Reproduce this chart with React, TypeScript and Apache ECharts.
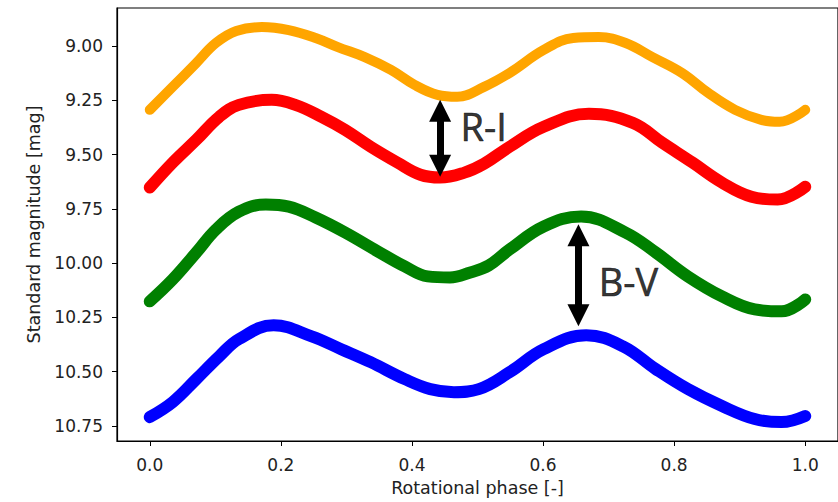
import React, { useEffect, useRef } from "react";
import * as echarts from "echarts";

// I band (orange)
const phaseI = [0.0, 0.035, 0.071, 0.101, 0.132, 0.171, 0.212, 0.253, 0.287, 0.328, 0.368, 0.404, 0.439, 0.469, 0.51, 0.549, 0.601, 0.646, 0.685, 0.726, 0.767, 0.812, 0.852, 0.893, 0.933, 0.961, 1.0];
const magI = [9.294, 9.188, 9.078, 8.986, 8.931, 8.913, 8.927, 8.963, 9.005, 9.051, 9.11, 9.179, 9.225, 9.234, 9.188, 9.124, 9.018, 8.963, 8.959, 8.986, 9.051, 9.124, 9.216, 9.294, 9.34, 9.349, 9.294];
// R band (red)
const phaseR = [0.0, 0.035, 0.071, 0.106, 0.136, 0.186, 0.222, 0.262, 0.298, 0.337, 0.378, 0.413, 0.443, 0.48, 0.51, 0.549, 0.601, 0.67, 0.737, 0.782, 0.828, 0.873, 0.918, 0.958, 1.0];
const magR = [9.652, 9.537, 9.432, 9.326, 9.271, 9.248, 9.271, 9.326, 9.386, 9.464, 9.537, 9.593, 9.606, 9.583, 9.542, 9.464, 9.372, 9.312, 9.354, 9.446, 9.537, 9.629, 9.694, 9.707, 9.648];
// V band (green)
const phaseV = [0.0, 0.035, 0.071, 0.101, 0.136, 0.177, 0.212, 0.253, 0.298, 0.348, 0.389, 0.424, 0.458, 0.489, 0.517, 0.549, 0.601, 0.658, 0.726, 0.772, 0.821, 0.873, 0.923, 0.964, 1.0];
const magV = [10.176, 10.075, 9.951, 9.845, 9.763, 9.73, 9.74, 9.79, 9.859, 9.946, 10.015, 10.061, 10.066, 10.043, 10.011, 9.937, 9.831, 9.785, 9.859, 9.951, 10.061, 10.153, 10.213, 10.222, 10.167];
// B band (blue)
const phaseB = [0.0, 0.035, 0.071, 0.106, 0.136, 0.189, 0.247, 0.292, 0.337, 0.389, 0.428, 0.464, 0.502, 0.549, 0.601, 0.666, 0.722, 0.772, 0.821, 0.873, 0.923, 0.964, 1.0];
const magB = [10.709, 10.64, 10.534, 10.429, 10.35, 10.286, 10.337, 10.396, 10.456, 10.534, 10.58, 10.594, 10.58, 10.502, 10.396, 10.332, 10.383, 10.488, 10.58, 10.658, 10.718, 10.732, 10.704];

const xTicks = [0.0, 0.2, 0.4, 0.6, 0.8, 1.0];
const yTicks = [9.0, 9.25, 9.5, 9.75, 10.0, 10.25, 10.5, 10.75];

// colour-index arrows: [phase, from magnitude, to magnitude]
const arrowRI = [0.443, 9.298, 9.551];
const arrowBV = [0.654, 9.872, 10.24];
// annotation labels: [phase, magnitude, text]
const annotations: [number, number, string][] = [
  [0.474, 9.37, "R-I"],
  [0.685, 10.08, "B-V"],
];

const tickFont = { fontFamily: "DejaVu Sans", fontSize: 17, color: "#222" };
const nameFont = { fontFamily: "DejaVu Sans", fontSize: 17.5, color: "#222" };

export default function App() {
  const ref = useRef<HTMLDivElement>(null);
  useEffect(() => {
    if (!ref.current) return;
    const chart = echarts.init(ref.current, undefined, { renderer: "svg" });
    const mk = (name: string, ph: number[], vals: number[], color: string, width: number) => ({
      name,
      type: "line",
      data: ph.map((p, i) => [p, vals[i]]),
      smooth: 0.4,
      symbol: "none",
      lineStyle: { color, width, cap: "round", join: "round" },
      z: 2,
    });
    const arrow = (a: number[]) => [
      { coord: [a[0], a[1]] },
      { coord: [a[0], a[2]] },
    ];
    chart.setOption({
      animation: false,
      backgroundColor: "#fff",
      grid: {
        left: 117,
        top: 8,
        width: 727,
        height: 434,
        show: true,
        borderColor: "#000",
        borderWidth: 1.2,
        backgroundColor: "transparent",
      },
      xAxis: {
        type: "value",
        min: -0.05,
        max: 1.05,
        name: "Rotational phase [-]",
        nameLocation: "middle",
        nameGap: 38,
        nameTextStyle: nameFont,
        splitLine: { show: false },
        axisLine: { show: true, onZero: false, lineStyle: { color: "#000", width: 1.2 } },
        axisTick: { show: true, length: 5, customValues: xTicks, lineStyle: { color: "#000" } },
        axisLabel: {
          ...tickFont,
          margin: 15,
          customValues: xTicks,
          formatter: (v: number) => v.toFixed(1),
        },
      },
      yAxis: {
        type: "value",
        inverse: true,
        min: 8.825,
        max: 10.819,
        name: "Standard magnitude [mag]",
        nameLocation: "middle",
        nameGap: 73,
        nameTextStyle: nameFont,
        splitLine: { show: false },
        axisLine: { show: true, onZero: false, lineStyle: { color: "#000", width: 1.2 } },
        axisTick: { show: true, length: 5, customValues: yTicks, lineStyle: { color: "#000" } },
        axisLabel: {
          ...tickFont,
          margin: 14,
          customValues: yTicks,
          formatter: (v: number) => v.toFixed(2),
        },
      },
      series: [
        mk("I", phaseI, magI, "#FFA500", 10),
        mk("R", phaseR, magR, "#FF0000", 12),
        mk("V", phaseV, magV, "#008000", 12),
        mk("B", phaseB, magB, "#0000FF", 12),
        {
          type: "line",
          data: [],
          markLine: {
            silent: true,
            symbol: ["triangle", "triangle"],
            symbolSize: [22, 22],
            lineStyle: { color: "#000", width: 7, type: "solid" },
            itemStyle: { color: "#000" },
            label: { show: false },
            emphasis: { disabled: true },
            data: [arrow(arrowRI), arrow(arrowBV)],
          },
          z: 5,
        },
        {
          type: "scatter",
          symbolSize: 0,
          silent: true,
          data: annotations.map((a) => ({ value: [a[0], a[1]], name: a[2] })),
          label: {
            show: true,
            position: "right",
            distance: 0,
            formatter: (p: any) => p.name,
            fontFamily: "Open Sans",
            fontSize: 38,
            color: "#000",
            textBorderColor: "#000",
            textBorderWidth: 0.6,
          },
          z: 6,
        },
      ],
    });
    return () => chart.dispose();
  }, []);
  return (
    <div
      ref={ref}
      style={{ position: "fixed", left: 0, top: 0, width: 838, height: 502, background: "#fff" }}
    />
  );
}
